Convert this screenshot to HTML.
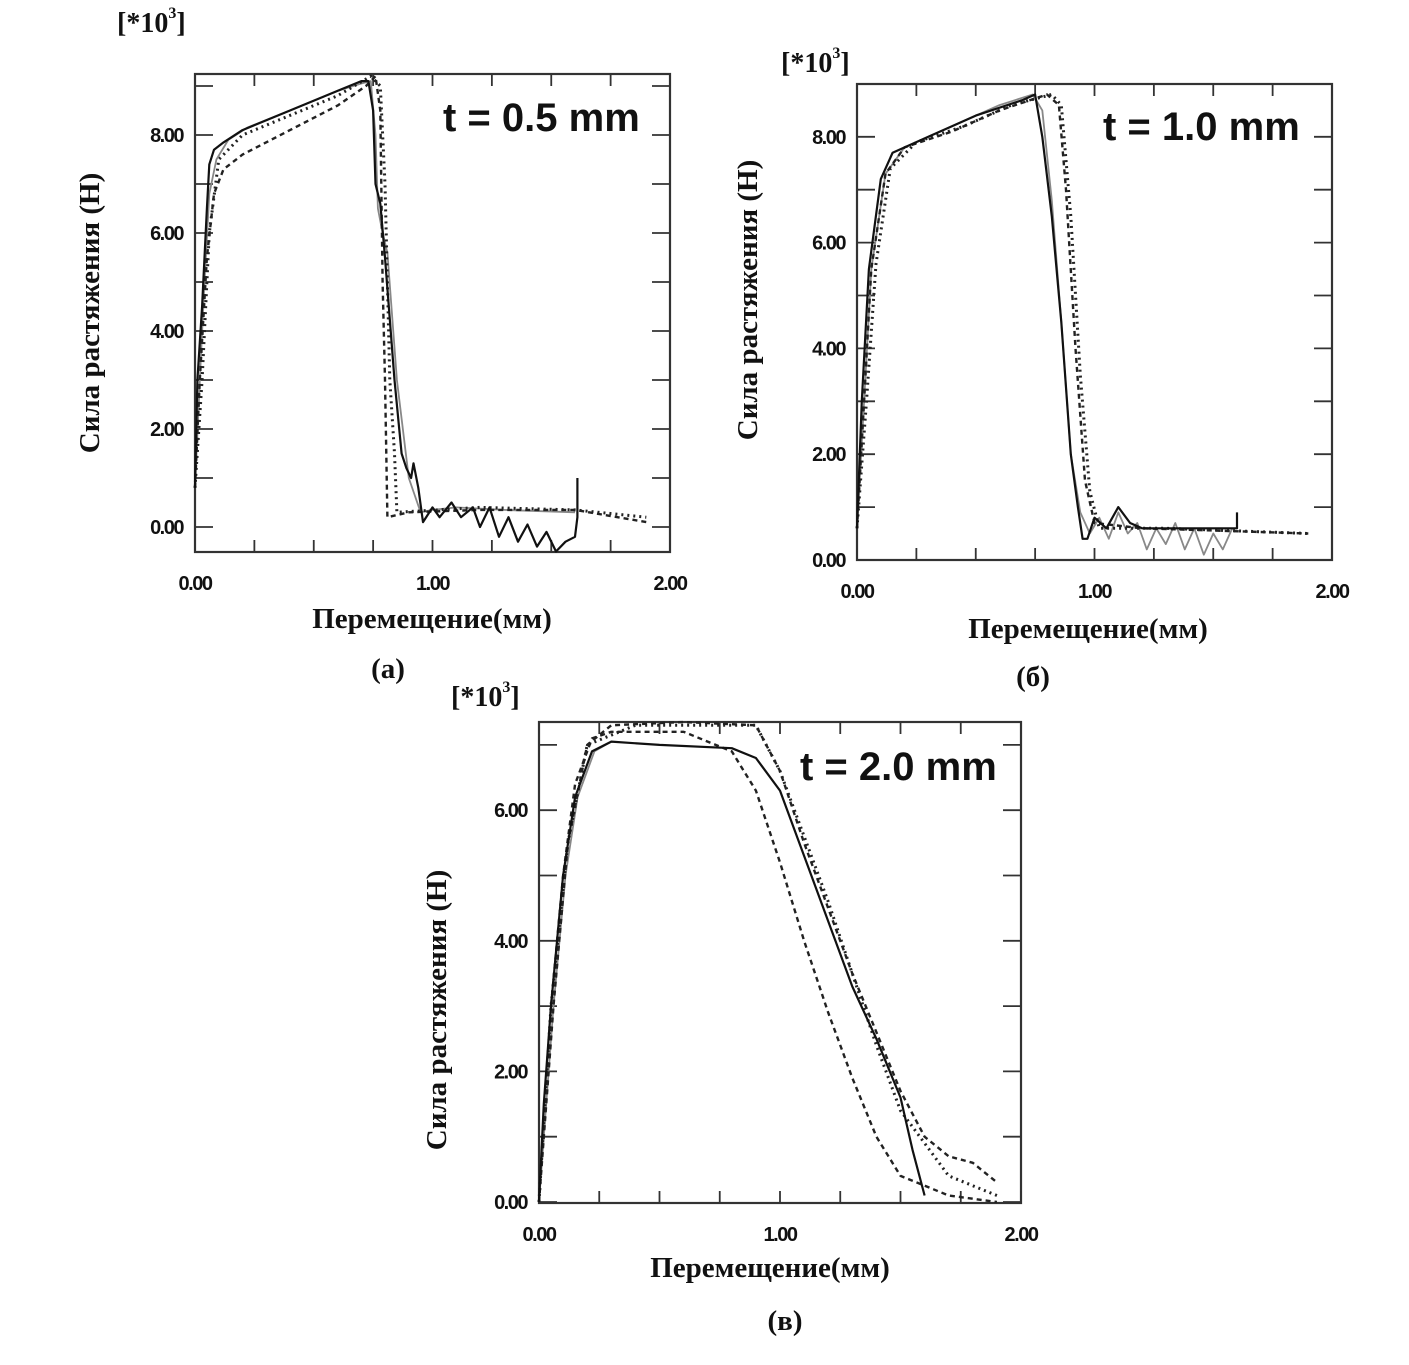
<!DOCTYPE html>
<html><head><meta charset="utf-8"><style>
body{margin:0;background:#fff;}
svg text{fill:#111;}
.tk{font-family:"Liberation Sans",sans-serif;font-weight:bold;font-size:20px;letter-spacing:-1.5px}
.ttl{font-family:"Liberation Serif",serif;font-weight:bold;font-size:29px}
.big{font-family:"Liberation Sans",sans-serif;font-weight:bold;font-size:40px}
.mul{font-family:"Liberation Serif",serif;font-size:28px;font-weight:bold}
</style></head><body>
<svg id="fig" width="1409" height="1360" viewBox="0 0 1409 1360" xmlns="http://www.w3.org/2000/svg">
<rect width="1409" height="1360" fill="#fff"/>
</svg>
<script>
// ---- data (x: мм, y: Н*10^3) ----
const aSolidX=[0,0.01,0.03,0.05,0.06,0.08,0.12,0.2,0.4,0.6,0.7,0.73,0.75,0.76,0.78,0.8,0.84,0.87,0.89,0.91,0.92,0.94,0.96,1.0,1.03,1.08,1.12,1.17,1.2,1.24,1.28,1.32,1.36,1.4,1.44,1.48,1.52,1.56,1.6,1.61,1.61];
const aSolidY=[0.8,3,4.5,6.5,7.4,7.7,7.85,8.1,8.5,8.9,9.1,9.1,8.5,7.0,6.6,5.5,3.0,1.5,1.2,1.0,1.3,0.8,0.1,0.4,0.2,0.5,0.2,0.4,0.0,0.4,-0.2,0.2,-0.3,0.05,-0.4,-0.1,-0.5,-0.3,-0.2,0.2,1.0];
const aGrayX=[0,0.02,0.04,0.06,0.09,0.14,0.22,0.4,0.6,0.7,0.74,0.76,0.77,0.79,0.81,0.85,0.9,0.95,1.0,1.1,1.3,1.6];
const aGrayY=[0.8,3,5,6.8,7.5,7.9,8.15,8.5,8.9,9.05,9.1,8.0,6.5,6.0,5.6,3.0,1.0,0.3,0.35,0.4,0.35,0.3];
const aDashX=[0,0.02,0.05,0.08,0.12,0.2,0.4,0.6,0.72,0.76,0.78,0.79,0.8,0.81,0.9,1.2,1.6,1.9];
const aDashY=[0.8,3,5.5,6.8,7.3,7.6,8.1,8.6,9.0,9.2,8.5,5,3,0.2,0.3,0.35,0.35,0.1];
const aDotX=[0,0.03,0.06,0.1,0.2,0.4,0.6,0.74,0.78,0.8,0.82,0.84,0.85,1.2,1.6,1.9];
const aDotY=[0.8,3,6,7.5,8.0,8.4,8.8,9.2,9.0,7.0,3.0,1.5,0.3,0.4,0.35,0.2];

const bSolidX=[0,0.02,0.05,0.1,0.15,0.3,0.5,0.7,0.75,0.78,0.82,0.86,0.9,0.93,0.95,0.97,1.0,1.05,1.1,1.15,1.2,1.3,1.5,1.6,1.6];
const bSolidY=[0.6,3,5.5,7.2,7.7,8.0,8.4,8.7,8.8,8.0,6.5,4.5,2.0,1.0,0.4,0.4,0.8,0.6,1.0,0.7,0.6,0.6,0.6,0.6,0.9];
const bGrayX=[0,0.03,0.06,0.12,0.2,0.4,0.6,0.74,0.78,0.82,0.86,0.9,0.94,0.98,1.02,1.06,1.1,1.14,1.18,1.22,1.26,1.3,1.34,1.38,1.42,1.46,1.5,1.54,1.58];
const bGrayY=[0.6,3,5.5,7.3,7.8,8.2,8.6,8.8,8.5,6.8,4.5,2.0,0.9,0.5,0.8,0.4,0.9,0.5,0.7,0.2,0.6,0.3,0.7,0.2,0.6,0.1,0.5,0.2,0.6];
const bDashX=[0,0.03,0.06,0.12,0.2,0.4,0.6,0.8,0.85,0.88,0.92,0.96,1.0,1.2,1.9];
const bDashY=[0.6,3,5.5,7.3,7.8,8.1,8.5,8.8,8.6,7.0,4.0,1.5,0.7,0.6,0.5];
const bDotX=[0,0.04,0.08,0.14,0.25,0.45,0.65,0.82,0.86,0.9,0.94,0.98,1.02,1.3,1.9];
const bDotY=[0.6,3,5.6,7.4,7.9,8.2,8.6,8.8,8.6,6.5,3.5,1.3,0.6,0.6,0.5];

const cSolidX=[0,0.02,0.05,0.1,0.15,0.22,0.3,0.5,0.8,0.9,1.0,1.1,1.2,1.3,1.4,1.5,1.55,1.6];
const cSolidY=[0,1.5,3,5,6.2,6.9,7.05,7.0,6.95,6.8,6.3,5.3,4.3,3.3,2.5,1.6,0.8,0.1];
const cGrayX=[0,0.03,0.06,0.11,0.16,0.23,0.3];
const cGrayY=[0,1.5,3,5,6.2,6.9,7.05];
const cDash1X=[0,0.05,0.1,0.15,0.22,0.3,0.6,0.8,0.9,1.0,1.1,1.2,1.3,1.4,1.5,1.7,1.9];
const cDash1Y=[0,3,5,6.4,7.1,7.2,7.2,6.9,6.3,5.2,4.0,2.9,1.9,1.0,0.4,0.1,0.0];
const cDash2X=[0,0.06,0.12,0.2,0.3,0.6,0.9,1.0,1.1,1.2,1.3,1.4,1.5,1.6,1.7,1.8,1.9];
const cDash2Y=[0,3,5.5,7.0,7.3,7.35,7.3,6.6,5.5,4.5,3.5,2.6,1.7,1.0,0.7,0.6,0.3];
const cDotX=[0,0.05,0.12,0.2,0.4,0.9,1.0,1.1,1.2,1.3,1.4,1.5,1.6,1.7,1.9];
const cDotY=[0,3,5.5,7.0,7.3,7.3,6.6,5.6,4.6,3.5,2.4,1.4,0.9,0.4,0.1];

const yTicksA=["0.00","2.00","4.00","6.00","8.00"];
const yTicksB=["0.00","2.00","4.00","6.00","8.00"];
const yTicksC=["0.00","2.00","4.00","6.00"];
const xTicks=["0.00","1.00","2.00"];

const NS="http://www.w3.org/2000/svg";
const svg=document.getElementById('fig');
function el(t,a,p){const e=document.createElementNS(NS,t);for(const k in a)e.setAttribute(k,a[k]);(p||svg).appendChild(e);return e;}

function plot(o){
  const g=el('g',{});
  
  
  const X=v=>o.x0+(v/2)*(o.x1-o.x0);
  const Y=v=>o.y0-(v-0)*o.py;
  const box=el('rect',{x:o.x0,y:o.yt,width:o.x1-o.x0,height:o.yb-o.yt,fill:'none',stroke:'#333','stroke-width':2.2},g);
  
  
  for(let v=0;v<=2.0001;v+=0.25){
    const x=X(v);
    el('line',{x1:x,y1:o.yb,x2:x,y2:o.yb-12,stroke:'#333','stroke-width':1.8},g);
    el('line',{x1:x,y1:o.yt,x2:x,y2:o.yt+12,stroke:'#333','stroke-width':1.8},g);
  }
  for(let v=Math.ceil(o.ymin);Y(v)>o.yt+2;v+=1){
    const y=Y(v);
    el('line',{x1:o.x0,y1:y,x2:o.x0+18,y2:y,stroke:'#333','stroke-width':1.8},g);
    el('line',{x1:o.x1,y1:y,x2:o.x1-18,y2:y,stroke:'#333','stroke-width':1.8},g);
  }
  o.yt_labels.forEach((s,i)=>{
    const t=el('text',{x:o.x0-12,y:Y(parseFloat(s))+7,'text-anchor':'end',class:'tk'},g);t.textContent=s;
    
    
  });
  xTicks.forEach(s=>{
    const t=el('text',{x:X(parseFloat(s)),y:o.yb+38,'text-anchor':'middle',class:'tk'},g);t.textContent=s;
    
    
  });
  o.series.forEach(s=>{
    const d=s.x.map((v,i)=>(i?'L':'M')+X(v).toFixed(1)+','+Y(s.y[i]).toFixed(1)).join('');
    const p=el('path',{d:d,fill:'none',stroke:s.c,'stroke-width':s.w,'stroke-dasharray':s.dash||'none','stroke-linejoin':'round'},g);
    
    
  });
  const tt=el('text',{x:o.tx,y:o.ty,class:'big'},g);tt.textContent=o.title;
  
  
  const yl=el('text',{x:0,y:0,class:'ttl','text-anchor':'middle',transform:`translate(${o.ylx},${o.yly}) rotate(-90)`},g);yl.textContent='Сила растяжения (Н)';
  
  
  const xl=el('text',{x:o.xlx,y:o.xly,class:'ttl','text-anchor':'middle'},g);xl.textContent='Перемещение(мм)';
  
  
  const sl=el('text',{x:o.slx,y:o.sly,class:'ttl','text-anchor':'middle'},g);sl.textContent=o.sub;
  
  
  const m=el('text',{x:o.mx,y:o.my,class:'mul'},g);m.innerHTML='[*10<tspan dy="-14" font-size="16">3</tspan><tspan dy="14">]</tspan>';
  
  
}
const S=(x,y,c,w,dash,n)=>({x,y,c,w,dash,n});
plot({name:'plot-a',x0:195,x1:670,yt:74,yb:552,y0:527,py:49,ymin:-0.5,yt_labels:yTicksA,title:'t = 0.5 mm',tx:443,ty:131,
 ylx:99,yly:313,xlx:432,xly:628,slx:388,sly:678,sub:'(a)',mx:117,my:32,
 series:[S(aGrayX,aGrayY,'#888',1.8,null,'series-gray'),S(aDashX,aDashY,'#222',2.4,'5 4','series-dashed'),S(aDotX,aDotY,'#222',3,'2 4','series-dotted'),S(aSolidX,aSolidY,'#111',2.2,null,'series-solid')]});
plot({name:'plot-b',x0:857,x1:1332,yt:84,yb:560,y0:560,py:52.9,ymin:0,yt_labels:yTicksB,title:'t = 1.0 mm',tx:1103,ty:140,
 ylx:757,yly:300,xlx:1088,xly:638,slx:1033,sly:686,sub:'(б)',mx:781,my:72,
 series:[S(bGrayX,bGrayY,'#888',1.8,null,'series-gray'),S(bDashX,bDashY,'#222',2.4,'5 4','series-dashed'),S(bDotX,bDotY,'#222',3,'2 4','series-dotted'),S(bSolidX,bSolidY,'#111',2.2,null,'series-solid')]});
plot({name:'plot-c',x0:539,x1:1021,yt:722,yb:1203,y0:1202,py:65.3,ymin:0,yt_labels:yTicksC,title:'t = 2.0 mm',tx:800,ty:780,
 ylx:446,yly:1010,xlx:770,xly:1277,slx:785,sly:1330,sub:'(в)',mx:451,my:706,
 series:[S(cGrayX,cGrayY,'#888',1.8,null,'series-gray'),S(cDash1X,cDash1Y,'#222',2.4,'5 4','series-dashed-1'),S(cDash2X,cDash2Y,'#222',2.4,'5 4','series-dashed-2'),S(cDotX,cDotY,'#222',3,'2 4','series-dotted'),S(cSolidX,cSolidY,'#111',2.2,null,'series-solid')]});
</script>
</body></html>
